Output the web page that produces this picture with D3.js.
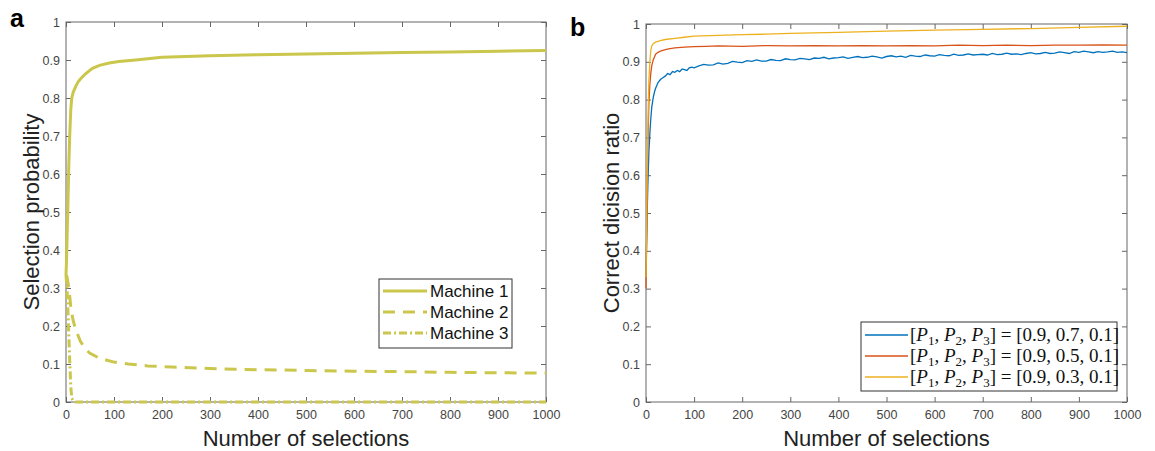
<!DOCTYPE html>
<html>
<head>
<meta charset="utf-8">
<script src="https://cdn.jsdelivr.net/npm/d3@7/dist/d3.min.js"></script>
<style>
  body { margin: 0; background: #fff; }
  text { font-family: "Liberation Sans", Arial, sans-serif; }
</style>
</head>
<body>
<svg id="chart" width="1155" height="451"></svg>
<script>
// ticks shared by both panels
var xTicks = [0, 100, 200, 300, 400, 500, 600, 700, 800, 900, 1000];
var xTickLabels = ["0", "100", "200", "300", "400", "500", "600", "700", "800", "900", "1000"];
var yTicks = [0, 0.1, 0.2, 0.3, 0.4, 0.5, 0.6, 0.7, 0.8, 0.9, 1];
var yTickLabels = ["0", "0.1", "0.2", "0.3", "0.4", "0.5", "0.6", "0.7", "0.8", "0.9", "1"];

// panel a : selection probability of each machine
var m1X = [0, 1, 2, 3, 4, 5, 6, 8, 10, 12, 15, 20, 25, 30, 40, 55, 70, 90, 110, 145, 200, 300, 400, 500, 600, 700, 800, 900, 1000];
var m1Y = [0.333, 0.37, 0.42, 0.47, 0.52, 0.58, 0.63, 0.71, 0.77, 0.8, 0.815, 0.83, 0.842, 0.85, 0.863, 0.878, 0.886, 0.892, 0.896, 0.9, 0.907, 0.911, 0.914, 0.916, 0.918, 0.92, 0.921, 0.923, 0.925];
var m2X = [0, 2, 4, 6, 8, 10, 14, 18, 22, 30, 40, 50, 70, 100, 130, 170, 220, 300, 400, 500, 600, 700, 800, 900, 1000];
var m2Y = [0.333, 0.33, 0.315, 0.3, 0.275, 0.25, 0.22, 0.2, 0.185, 0.16, 0.14, 0.128, 0.115, 0.105, 0.1, 0.095, 0.092, 0.088, 0.085, 0.083, 0.081, 0.08, 0.078, 0.077, 0.076];
var m3X = [0, 2, 4, 6, 8, 10, 12, 15, 20, 1000];
var m3Y = [0.333, 0.3, 0.24, 0.17, 0.1, 0.04, 0.01, 0.003, 0, 0];
var machineNames = ["Machine 1", "Machine 2", "Machine 3"];

// panel b : correct decision ratio for three settings
var blueX = [0, 1, 2, 3, 4, 5, 6, 8, 10, 12, 15, 18, 20, 25, 30, 35,
  40, 45, 50, 55, 60, 65, 70, 75, 80, 85, 90, 95, 100,
  110, 120, 130, 140, 150, 160, 170, 180, 190, 200,
  210, 220, 230, 240, 250, 260, 270, 280, 290, 300,
  310, 320, 330, 340, 350, 360, 370, 380, 390, 400,
  410, 420, 430, 440, 450, 460, 470, 480, 490, 500,
  510, 520, 530, 540, 550, 560, 570, 580, 590, 600,
  610, 620, 630, 640, 650, 660, 670, 680, 690, 700,
  710, 720, 730, 740, 750, 760, 770, 780, 790, 800,
  810, 820, 830, 840, 850, 860, 870, 880, 890, 900,
  910, 920, 930, 940, 950, 960, 970, 980, 990, 1000];
var blueY = [0.33, 0.4, 0.47, 0.53, 0.58, 0.62, 0.66, 0.71, 0.75, 0.78, 0.805, 0.822, 0.83, 0.845, 0.853, 0.858,
  0.862, 0.869, 0.866, 0.874, 0.872, 0.877, 0.874, 0.881, 0.879, 0.877, 0.884, 0.886, 0.884,
  0.889, 0.893, 0.891, 0.892, 0.897, 0.894, 0.896, 0.901, 0.899, 0.898,
  0.903, 0.901, 0.905, 0.902, 0.902, 0.906, 0.904, 0.903, 0.908, 0.906,
  0.905, 0.909, 0.908, 0.906, 0.91, 0.909, 0.912, 0.908, 0.91, 0.911,
  0.913, 0.909, 0.912, 0.914, 0.911, 0.912, 0.915, 0.913, 0.91, 0.914,
  0.916, 0.913, 0.915, 0.912, 0.917, 0.915, 0.914, 0.918, 0.916, 0.915,
  0.919, 0.917, 0.916, 0.92, 0.917, 0.918, 0.921, 0.918, 0.919, 0.92,
  0.918, 0.922, 0.919, 0.92, 0.923, 0.92, 0.921, 0.919, 0.922, 0.924,
  0.921, 0.922, 0.925, 0.922, 0.923, 0.926, 0.924, 0.922, 0.927, 0.925,
  0.928, 0.926, 0.924, 0.927, 0.925, 0.926, 0.928, 0.925, 0.926, 0.924];
var redX = [0, 1, 2, 3, 4, 5, 6, 8, 10, 12, 15, 20, 25, 30, 40, 50, 60, 80, 100, 125,
  150, 200, 250, 300, 350, 400, 450, 500, 550, 600, 650, 700, 750, 800, 850, 900, 950, 1000];
var redY = [0.3, 0.4, 0.5, 0.6, 0.68, 0.74, 0.79, 0.84, 0.87, 0.89, 0.905, 0.92, 0.925, 0.928, 0.932, 0.935, 0.937, 0.939, 0.94, 0.941,
  0.942, 0.941, 0.943, 0.942, 0.943, 0.942, 0.943, 0.942, 0.943, 0.942, 0.944, 0.943, 0.944, 0.943, 0.944, 0.944, 0.945, 0.944];
var yellowX = [0, 1, 2, 3, 4, 5, 6, 8, 10, 12, 15, 20, 30, 40, 60, 80, 100, 150, 200, 250, 300, 400, 500, 600, 700, 800, 900, 1000];
var yellowY = [0.33, 0.45, 0.56, 0.66, 0.74, 0.8, 0.85, 0.9, 0.93, 0.942, 0.948, 0.952, 0.956, 0.959, 0.962, 0.965, 0.968, 0.97, 0.972, 0.973, 0.975, 0.978, 0.981, 0.984, 0.986, 0.988, 0.991, 0.994];
var settingValues = [["0.9", "0.7", "0.1"], ["0.9", "0.5", "0.1"], ["0.9", "0.3", "0.1"]];

var svg = d3.select("#chart");
var olive = "#cbc64c";

function zip(xs, ys) {
  return xs.map(function (x, i) { return [x, ys[i]]; });
}

// axes box with inward ticks on all four sides
function drawFrame(box, label, ylabel, labelPos) {
  var x = d3.scaleLinear().domain([0, 1000]).range([box.left, box.right]);
  var y = d3.scaleLinear().domain([0, 1]).range([box.bottom, box.top]);
  var g = svg.append("g");

  g.append("rect")
    .attr("x", box.left).attr("y", box.top)
    .attr("width", box.right - box.left).attr("height", box.bottom - box.top)
    .attr("fill", "#fff").attr("stroke", "#666").attr("stroke-width", 1);

  var tickStyle = function (a) {
    a.select(".domain").remove();
    a.selectAll(".tick line").attr("stroke", "#666");
    a.selectAll(".tick text")
      .attr("fill", "#444")
      .style("font-size", "12.5px");
  };

  g.append("g").attr("transform", "translate(0," + box.bottom + ")")
    .call(d3.axisBottom(x).tickValues(xTicks).tickSizeInner(-5).tickSizeOuter(0).tickPadding(8)
      .tickFormat(function (d, i) { return xTickLabels[i]; }))
    .call(tickStyle);
  g.append("g").attr("transform", "translate(0," + box.top + ")")
    .call(d3.axisTop(x).tickValues(xTicks).tickSizeInner(-5).tickSizeOuter(0).tickFormat(""))
    .call(tickStyle);
  g.append("g").attr("transform", "translate(" + box.left + ",0)")
    .call(d3.axisLeft(y).tickValues(yTicks).tickSizeInner(-5).tickSizeOuter(0).tickPadding(6)
      .tickFormat(function (d, i) { return yTickLabels[i]; }))
    .call(tickStyle);
  g.append("g").attr("transform", "translate(" + box.right + ",0)")
    .call(d3.axisRight(y).tickValues(yTicks).tickSizeInner(-5).tickSizeOuter(0).tickFormat(""))
    .call(tickStyle);

  g.append("text")
    .attr("x", (box.left + box.right) / 2).attr("y", 446)
    .attr("text-anchor", "middle")
    .attr("fill", "#222")
    .style("font-size", "22px")
    .text("Number of selections");

  g.append("text")
    .attr("transform", "translate(" + (box.left - 27) + "," + ((box.top + box.bottom) / 2) + ") rotate(-90)")
    .attr("text-anchor", "middle")
    .attr("fill", "#222")
    .style("font-size", "22px")
    .text(ylabel);

  svg.append("text")
    .attr("x", labelPos[0]).attr("y", labelPos[1])
    .style("font-size", "25px").style("font-weight", "bold")
    .text(label);

  return { x: x, y: y };
}

// ---- panel a ----
var boxA = { left: 66, top: 22, right: 546, bottom: 402 };
var sa = drawFrame(boxA, "a", "Selection probability", [10, 27]);
var lineA = d3.line().x(function (d) { return sa.x(d[0]); }).y(function (d) { return sa.y(d[1]); });

var seriesA = [
  { data: zip(m1X, m1Y), dash: null },
  { data: zip(m2X, m2Y), dash: "12,8" },
  { data: zip(m3X, m3Y), dash: "8,3,2,3" }
];
svg.append("g").selectAll("path")
  .data(seriesA)
  .enter()
  .append("path")
  .attr("d", function (s) { return lineA(s.data); })
  .attr("fill", "none")
  .attr("stroke", olive)
  .attr("stroke-width", 3)
  .attr("stroke-dasharray", function (s) { return s.dash; });

var legA = svg.append("g").attr("transform", "translate(379,279)");
legA.append("rect").attr("width", 133).attr("height", 69)
  .attr("fill", "#fff").attr("stroke", "#333").attr("stroke-width", 1);
machineNames.forEach(function (name, i) {
  var yy = 12 + i * 21;
  legA.append("line")
    .attr("x1", 4).attr("x2", 48).attr("y1", yy).attr("y2", yy)
    .attr("stroke", olive).attr("stroke-width", 3)
    .attr("stroke-dasharray", seriesA[i].dash);
  legA.append("text")
    .attr("x", 51).attr("y", yy + 6)
    .attr("fill", "#111")
    .style("font-size", "17px")
    .text(name);
});

// ---- panel b ----
var boxB = { left: 646, top: 24, right: 1127, bottom: 402 };
var sb = drawFrame(boxB, "b", "Correct dicision ratio", [570, 36]);
var lineB = d3.line().x(function (d) { return sb.x(d[0]); }).y(function (d) { return sb.y(d[1]); });

var seriesB = [
  { data: zip(blueX, blueY), color: "#0072bd" },
  { data: zip(redX, redY), color: "#d95319" },
  { data: zip(yellowX, yellowY), color: "#edb120" }
];
svg.append("g").selectAll("path")
  .data(seriesB)
  .enter()
  .append("path")
  .attr("d", function (s) { return lineB(s.data); })
  .attr("fill", "none")
  .attr("stroke", function (s) { return s.color; })
  .attr("stroke-width", 1.3);

var legB = svg.append("g").attr("transform", "translate(861,322)");
legB.append("rect").attr("width", 256).attr("height", 69)
  .attr("fill", "#fff").attr("stroke", "#333").attr("stroke-width", 1);
settingValues.forEach(function (vals, i) {
  var yy = 13 + i * 21;
  legB.append("line")
    .attr("x1", 4).attr("x2", 47).attr("y1", yy).attr("y2", yy)
    .attr("stroke", seriesB[i].color).attr("stroke-width", 1.3);
  var t = legB.append("text")
    .attr("x", 49).attr("y", yy + 6)
    .attr("fill", "#111")
    .style("font-family", "'Liberation Serif', 'DejaVu Serif', serif")
    .style("font-size", "19px");
  t.append("tspan").text("[");
  [1, 2, 3].forEach(function (k) {
    t.append("tspan").style("font-style", "italic").text("P");
    t.append("tspan").attr("dy", 4).style("font-size", "13px").text(k);
    t.append("tspan").attr("dy", -4).text(k < 3 ? ", " : "]");
  });
  t.append("tspan").text(" = [" + vals.join(", ") + "]");
});
</script>
</body>
</html>
